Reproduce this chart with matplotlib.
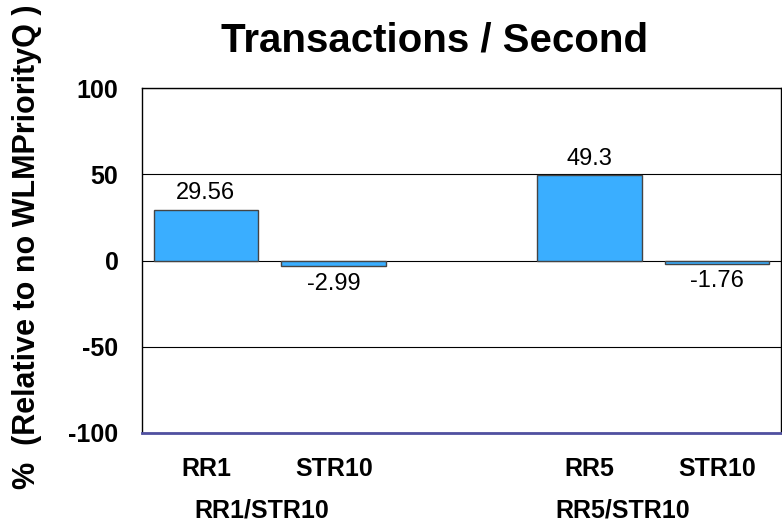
import matplotlib
matplotlib.use('Agg')
import matplotlib.pyplot as plt

plt.rcParams['font.family'] = ['Liberation Sans', 'DejaVu Sans']

categorias = ['RR1', 'STR10', 'RR5', 'STR10']
grupos = ['RR1/STR10', 'RR5/STR10']
valores = [29.56, -2.99, 49.3, -1.76]
rotulos = ['29.56', '-2.99', '49.3', '-1.76']
posicoes = [0, 1, 3, 4]

fig = plt.figure(figsize=(7.82, 5.24), dpi=100)
ax = fig.add_axes([142 / 782, 1 - 433 / 524, 639 / 782, 345 / 524])

ax.bar(posicoes, valores, width=0.82, color='#3aaeff', edgecolor='#444444', linewidth=1, zorder=3)

for x, v, r in zip(posicoes, valores, rotulos):
    if v >= 0:
        ax.text(x, v + 3, r, ha='center', va='bottom', fontsize=17)
    else:
        ax.text(x, v - 4, r, ha='center', va='top', fontsize=17)

ax.set_xlim(-0.5, 4.5)
ax.set_ylim(-100, 100)
ax.set_yticks([-100, -50, 0, 50, 100])
ax.set_yticklabels(['-100', '-50', '0', '50', '100'], fontsize=18, fontweight='bold')
ax.tick_params(axis='y', length=0, pad=17)
ax.set_xticks([])
ax.grid(axis='y', color='black', linewidth=0.8, zorder=0)

for s in ['top', 'right', 'left']:
    ax.spines[s].set_color('black')
    ax.spines[s].set_linewidth(1)
ax.spines['bottom'].set_color('#5050a0')
ax.spines['bottom'].set_linewidth(2)

for x, c in zip(posicoes, categorias):
    ax.text(x, -121, c, ha='center', va='center', fontsize=18, fontweight='bold')
for x, g in zip([0.44, 3.26], grupos):
    ax.text(x, -145, g, ha='center', va='center', fontsize=18, fontweight='bold')

fig.text(435 / 782, 1 - 40 / 524, 'Transactions / Second', ha='center', va='center',
         fontsize=29, fontweight='bold')
fig.text(27 / 782, 1 - 247 / 524, '%  (Relative to no WLMPriorityQ )', rotation=90,
         ha='center', va='center', fontsize=22, fontweight='bold')

plt.savefig('out.png', dpi=100)
